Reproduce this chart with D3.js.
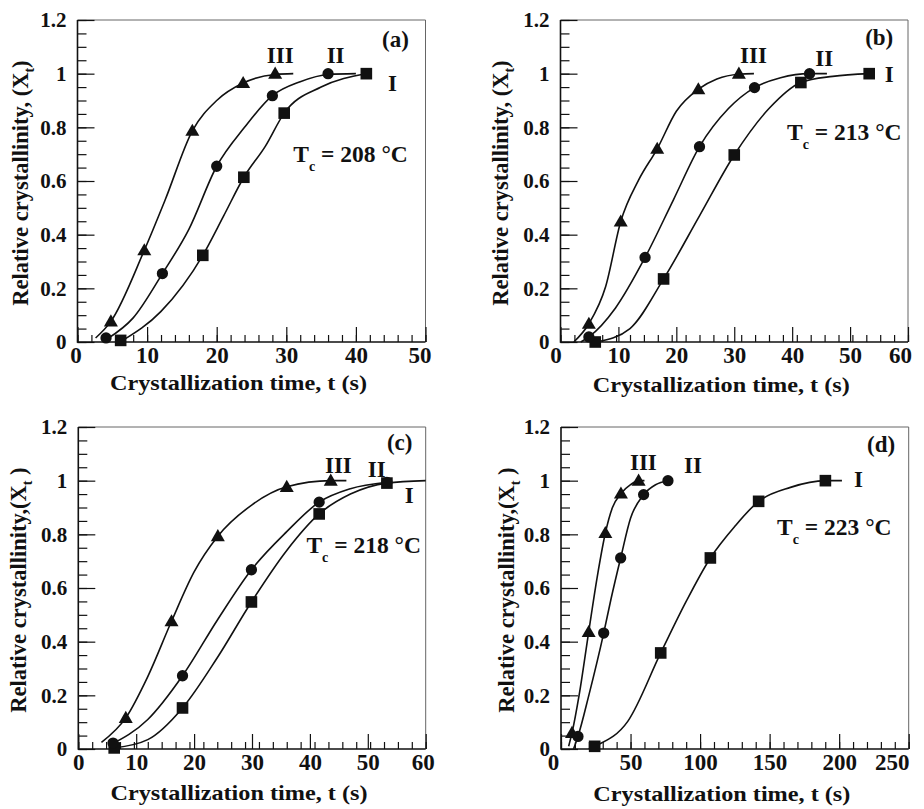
<!DOCTYPE html>
<html><head><meta charset="utf-8">
<script src="https://cdn.jsdelivr.net/npm/d3@7"></script>
<style>
html,body{margin:0;padding:0;background:#fff;}
text{font-family:"Liberation Serif","Times New Roman",serif;font-weight:bold;fill:#111;}
</style></head>
<body>
<svg id="chart" width="924" height="809"></svg>
<script>
// ---- data ----
const panelIds = ["a", "b", "c", "d"];
const tempLabels = ["208", "213", "218", "223"];
const xMaxes = [50, 60, 60, 250];
const xTickValues = [[0,10,20,30,40,50],[0,10,20,30,40,50,60],[0,10,20,30,40,50,60],[0,50,100,150,200,250]];
const yTickValues = [0,0.2,0.4,0.6,0.8,1,1.2];
const yTickLabels = ["0","0.2","0.4","0.6","0.8","1","1.2"];
const seriesNames = ["I", "II", "III"];

// markers: time (s) and relative crystallinity
const aI_t = [6.2, 18.0, 23.9, 29.7, 41.5];   const aI_x = [0.006, 0.323, 0.614, 0.853, 1.0];
const aII_t = [4.1, 12.2, 20.0, 28.0, 36.0];  const aII_x = [0.015, 0.255, 0.655, 0.918, 1.0];
const aIII_t = [4.8, 9.6, 16.5, 23.8, 28.4];  const aIII_x = [0.077, 0.342, 0.787, 0.965, 1.0];

const bI_t = [6.0, 17.8, 30.0, 41.5, 53.3];   const bI_x = [0.0, 0.235, 0.697, 0.967, 1.0];
const bII_t = [4.9, 14.6, 24.0, 33.5, 43.0];  const bII_x = [0.019, 0.315, 0.728, 0.948, 1.0];
const bIII_t = [4.9, 10.4, 16.7, 23.8, 30.8]; const bIII_x = [0.068, 0.449, 0.72, 0.942, 1.0];

const cI_t = [6.2, 18.0, 29.9, 41.6, 53.3];   const cI_x = [0.004, 0.153, 0.548, 0.876, 0.991];
const cII_t = [6.0, 18.0, 29.9, 41.6, 53.3];  const cII_x = [0.022, 0.273, 0.668, 0.92, 0.994];
const cIII_t = [8.2, 16.1, 24.1, 36.0, 43.6]; const cIII_x = [0.116, 0.476, 0.793, 0.977, 1.0];

const dI_t = [24.2, 71.7, 107.4, 142.1, 190.1]; const dI_x = [0.01, 0.358, 0.712, 0.923, 1.0];
const dII_t = [12.2, 30.7, 42.9, 59.4, 76.9];   const dII_x = [0.047, 0.432, 0.712, 0.948, 1.0];
const dIII_t = [7.9, 19.9, 31.9, 43.1, 55.8];   const dIII_x = [0.06, 0.436, 0.805, 0.952, 1.0];

// fitted curves
const aI_ct = [6.5, 12, 18.0, 21, 23.9, 27, 29.7, 35, 41.5];
const aI_cx = [0.006, 0.114, 0.323, 0.47, 0.614, 0.73, 0.853, 0.95, 1.0];
const aII_ct = [4.3, 8, 12.2, 16, 20.0, 24, 28.0, 32, 36.0, 40];
const aII_cx = [0.012, 0.09, 0.255, 0.42, 0.655, 0.80, 0.918, 0.97, 0.997, 1.0];
const aIII_ct = [2.6, 4.8, 9.6, 12.6, 16.5, 20, 23.8, 28.4, 31];
const aIII_cx = [0.015, 0.077, 0.342, 0.53, 0.787, 0.90, 0.965, 0.997, 1.0];

const bI_ct = [6.3, 12, 17.8, 24, 30.0, 36, 41.5, 47, 53.3];
const bI_cx = [0.0, 0.05, 0.235, 0.47, 0.697, 0.87, 0.967, 0.99, 1.0];
const bII_ct = [3.5, 4.9, 9.5, 14.6, 19.5, 24.0, 29, 33.5, 38, 43.0, 46];
const bII_cx = [0.0, 0.019, 0.127, 0.315, 0.53, 0.728, 0.87, 0.948, 0.985, 1.0, 1.0];
const bIII_ct = [2.3, 4.9, 7.8, 10.4, 13.5, 16.7, 20, 23.8, 27, 30.8, 33.4];
const bIII_cx = [0.0, 0.068, 0.207, 0.449, 0.604, 0.72, 0.86, 0.942, 0.98, 0.998, 1.0];

const cI_ct = [6.2, 12, 18.0, 24, 29.9, 36, 41.6, 47, 53.3, 60];
const cI_cx = [0.004, 0.035, 0.153, 0.34, 0.548, 0.74, 0.876, 0.95, 0.991, 1.0];
const cII_ct = [5.5, 12, 18.0, 24, 29.9, 36, 41.6, 47, 53.3];
const cII_cx = [0.015, 0.11, 0.273, 0.48, 0.668, 0.81, 0.92, 0.97, 0.994];
const cIII_ct = [4.0, 8.2, 12, 16.1, 20, 24.1, 30, 36.0, 43.6, 46.3];
const cIII_cx = [0.025, 0.116, 0.27, 0.476, 0.66, 0.793, 0.91, 0.977, 1.0, 1.0];

const dI_ct = [20, 24.2, 48, 71.7, 90, 107.4, 125, 142.1, 165, 190.1, 202];
const dI_cx = [0.0, 0.01, 0.103, 0.358, 0.55, 0.712, 0.83, 0.923, 0.975, 1.0, 1.0];
const dII_ct = [9, 12.2, 20, 30.7, 36, 42.9, 50, 59.4, 68, 76.9];
const dII_cx = [0.0, 0.047, 0.2, 0.432, 0.56, 0.712, 0.86, 0.948, 0.985, 1.0];
const dIII_ct = [5.5, 7.9, 13, 19.9, 26, 31.9, 37, 43.1, 50, 55.8, 60];
const dIII_cx = [0.01, 0.06, 0.2, 0.436, 0.64, 0.805, 0.9, 0.952, 0.985, 1.0, 1.0];

// annotation anchors in data units [time, crystallinity]
const labelPosI = [[44.6, 0.935], [56.0, 0.97], [56.4, 0.916], [210.6, 0.978]];
const labelPosII = [[35.8, 1.04], [44.0, 1.03], [50.0, 1.015], [88.4, 1.029]];
const labelPosIII = [[27.2, 1.04], [31.0, 1.04], [42.6, 1.028], [49.6, 1.04]];
const panelLabelPos = [[43.75, 1.10], [52.6, 1.107], [53.3, 1.114], [220, 1.108]];
const tempLabelPos = [[31.0, 0.67], [39.1, 0.753], [39.4, 0.729], [155.3, 0.798]];

const markerData = [
  [[aI_t, aI_x], [aII_t, aII_x], [aIII_t, aIII_x]],
  [[bI_t, bI_x], [bII_t, bII_x], [bIII_t, bIII_x]],
  [[cI_t, cI_x], [cII_t, cII_x], [cIII_t, cIII_x]],
  [[dI_t, dI_x], [dII_t, dII_x], [dIII_t, dIII_x]]
];
const curveData = [
  [[aI_ct, aI_cx], [aII_ct, aII_cx], [aIII_ct, aIII_cx]],
  [[bI_ct, bI_cx], [bII_ct, bII_cx], [bIII_ct, bIII_cx]],
  [[cI_ct, cI_cx], [cII_ct, cII_cx], [cIII_ct, cIII_cx]],
  [[dI_ct, dI_cx], [dII_ct, dII_cx], [dIII_ct, dIII_cx]]
];

// ---- layout ----
const boxes = [
  {l: 77.5, r: 425.5, t: 20, b: 342, ylx: 50, xlb: 48, firstShift: -2, lastShift: -6},
  {l: 560.5, r: 908, t: 20, b: 342, ylx: 53, xlb: 50, firstShift: -5, lastShift: -8},
  {l: 78.3, r: 425.7, t: 427, b: 749, ylx: 52, xlb: 51, firstShift: 0, lastShift: -3},
  {l: 561, r: 908.7, t: 427, b: 749, ylx: 47, xlb: 52, firstShift: -8, lastShift: -17}
];
const markerShapes = [d3.symbolSquare, d3.symbolCircle, d3.symbolTriangle];
const markerSizes = [135, 100, 85];

const svg = d3.select("#chart");

panelIds.forEach((pid, i) => {
  const B = boxes[i];
  const x = d3.scaleLinear().domain([0, xMaxes[i]]).range([B.l, B.r]);
  const y = d3.scaleLinear().domain([0, 1.2]).range([B.b, B.t]);
  const g = svg.append("g");

  // frame (top/right thin gray)
  g.append("path").attr("d", `M${B.l},${B.t}H${B.r}V${B.b}`)
    .attr("fill", "none").attr("stroke", "#666").attr("stroke-width", 1);

  // y axis: minor every 0.05 inward, major every 0.2
  const yMinor = d3.range(0, 1.2001, 0.05);
  g.append("g").attr("transform", `translate(${B.l},0)`)
    .call(d3.axisRight(y).tickValues(yMinor).tickSize(9).tickFormat(""))
    .call(s => s.select(".domain").remove())
    .call(s => s.selectAll("line").attr("stroke", "#111").attr("stroke-width", 1.2));
  g.append("g").attr("transform", `translate(${B.l},0)`)
    .call(d3.axisRight(y).tickValues(yTickValues).tickSize(17).tickFormat(""))
    .call(s => s.select(".domain").remove())
    .call(s => s.selectAll("line").attr("stroke", "#111").attr("stroke-width", 1.2));
  g.append("g").attr("transform", `translate(${B.l},0)`)
    .call(d3.axisLeft(y).tickValues(yTickValues).tickSize(0).tickPadding(11)
      .tickFormat((d, k) => yTickLabels[k]))
    .call(s => s.select(".domain").remove())
    .call(s => s.selectAll("text").attr("font-size", 21)
      .attr("font-family", "Liberation Serif").attr("font-weight", "bold").attr("fill", "#111"));

  // x axis: minor ticks every 1/25 of range, major at labels, pointing up
  const xStep = xMaxes[i] / 25;
  const xMinor = d3.range(0, xMaxes[i] + 1e-6, xStep);
  g.append("g").attr("transform", `translate(0,${B.b})`)
    .call(d3.axisTop(x).tickValues(xMinor).tickSize(7).tickFormat(""))
    .call(s => s.select(".domain").remove())
    .call(s => s.selectAll("line").attr("stroke", "#111").attr("stroke-width", 1.2));
  g.append("g").attr("transform", `translate(0,${B.b})`)
    .call(d3.axisTop(x).tickValues(xTickValues[i]).tickSize(15).tickFormat(""))
    .call(s => s.select(".domain").remove())
    .call(s => s.selectAll("line").attr("stroke", "#111").attr("stroke-width", 1.2));
  const nT = xTickValues[i].length;
  g.append("g").attr("transform", `translate(0,${B.b})`)
    .call(d3.axisBottom(x).tickValues(xTickValues[i]).tickSize(0).tickPadding(5)
      .tickFormat(d3.format("d")))
    .call(s => s.select(".domain").remove())
    .call(s => s.selectAll("text").attr("font-size", 23)
      .attr("font-family", "Liberation Serif").attr("font-weight", "bold").attr("fill", "#111")
      .attr("dx", (d, k) => k === 0 ? B.firstShift : (k === nT - 1 ? B.lastShift : 0)));

  // axis lines
  g.append("path").attr("d", `M${B.l},${B.t}V${B.b}H${B.r}`)
    .attr("fill", "none").attr("stroke", "#111").attr("stroke-width", 1.6);

  // axis titles
  g.append("text")
    .attr("x", (B.l + B.r) / 2 - 13).attr("y", B.b + B.xlb)
    .attr("text-anchor", "middle").attr("font-size", 22)
    .attr("textLength", 257).attr("lengthAdjust", "spacingAndGlyphs")
    .text("Crystallization time, t (s)");
  const yl = g.append("text")
    .attr("transform", `translate(${B.l - B.ylx},${(B.t + B.b) / 2 + 2}) rotate(-90)`)
    .attr("text-anchor", "middle").attr("font-size", 22.5);
  yl.append("tspan").text(i < 2 ? "Relative crystallinity, (X" : "Relative crystallinity,(X");
  yl.append("tspan").attr("font-size", 14).attr("dy", 6).text("t");
  yl.append("tspan").attr("dy", -6).text(i < 2 ? ")" : " )");

  // curves
  const line = d3.line().x(d => x(d[0])).y(d => y(d[1])).curve(d3.curveMonotoneX);
  curveData[i].forEach(([ts, xs]) => {
    g.append("path").datum(ts.map((t, k) => [t, xs[k]]))
      .attr("d", line).attr("fill", "none").attr("stroke", "#111").attr("stroke-width", 1.6);
  });

  // markers
  markerData[i].forEach(([ts, xs], si) => {
    g.selectAll(null).data(ts.map((t, k) => [t, xs[k]])).enter().append("path")
      .attr("transform", d => `translate(${x(d[0])},${y(d[1]) + (si === 2 ? 1 : 0)})`)
      .attr("d", d3.symbol().type(markerShapes[si]).size(markerSizes[si]))
      .attr("fill", "#111");
  });

  // annotations
  const ann = (pos, txt, size) => g.append("text")
    .attr("x", x(pos[0])).attr("y", y(pos[1])).attr("font-size", size).text(txt);
  ann(labelPosI[i], seriesNames[0], 23);
  ann(labelPosII[i], seriesNames[1], 23);
  ann(labelPosIII[i], seriesNames[2], 23);
  ann(panelLabelPos[i], "(" + pid + ")", 23);
  const tl = g.append("text").attr("x", x(tempLabelPos[i][0])).attr("y", y(tempLabelPos[i][1]))
    .attr("font-size", 23.5);
  tl.append("tspan").text("T");
  tl.append("tspan").attr("font-size", 14).attr("dy", 9).text("c");
  tl.append("tspan").attr("dy", -9).text(" = " + tempLabels[i] + " \u00B0C");
});
</script>
</body></html>
